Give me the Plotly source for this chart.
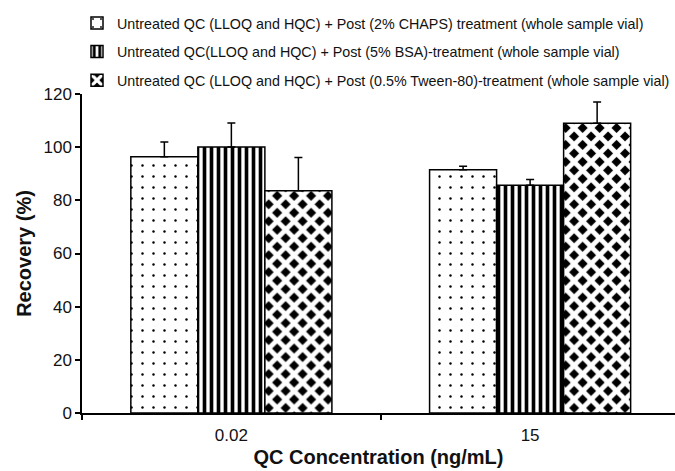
import plotly.graph_objects as go

categories = ["0.02", "15"]
series_names = [
    "Untreated QC (LLOQ and HQC) + Post (2% CHAPS) treatment (whole sample vial)",
    "Untreated QC(LLOQ and HQC) + Post (5% BSA)-treatment (whole sample vial)",
    "Untreated QC (LLOQ and HQC) + Post (0.5% Tween-80)-treatment (whole sample vial)",
]
chaps = [96.4, 91.5]
chaps_err = [5.5, 1.3]
bsa = [100.1, 85.7]
bsa_err = [9.0, 2.1]
tween = [83.6, 109.0]
tween_err = [12.5, 8.0]
y_ticks = [0, 20, 40, 60, 80, 100, 120]

FONT = "Liberation Sans, Arial, sans-serif"
TXT = "#111111"

patterns = [
    dict(shape=".", fgcolor="black", bgcolor="white", size=11, solidity=0.04, fillmode="replace"),
    dict(shape="|", fgcolor="black", bgcolor="white", size=7, solidity=0.52, fillmode="replace"),
    dict(shape="x", fgcolor="white", bgcolor="black", size=12, solidity=0.64, fillmode="replace"),
]

fig = go.Figure()
for i, (name, vals, errs) in enumerate(zip(series_names, [chaps, bsa, tween], [chaps_err, bsa_err, tween_err])):
    fig.add_trace(go.Bar(
        x=categories, y=vals, name=name,
        legendgroup=f"g{i}",
        marker=dict(color="white", line=dict(color="black", width=1.5), pattern=patterns[i]),
        error_y=dict(type="data", array=errs, arrayminus=[0] * len(errs), symmetric=False,
                     color="black", thickness=1.5, width=4),
    ))

fig.update_layout(
    width=675, height=471,
    margin=dict(l=82, r=0, t=94, b=58),
    paper_bgcolor="white", plot_bgcolor="white",
    barmode="group", bargap=0.327, bargroupgap=0,
    font=dict(family=FONT, color=TXT),
    showlegend=True,
    legend=dict(
        x=-0.005, xanchor="left", y=1.272, yanchor="top",
        font=dict(family=FONT, size=14.3, color=TXT),
        traceorder="grouped", tracegroupgap=7,
        bgcolor="rgba(0,0,0,0)",
    ),
    xaxis=dict(
        type="category", range=[-0.5, 1.485],
        showline=True, linecolor="black", linewidth=1.5,
        ticks="outside", tickson="boundaries", ticklen=5, tickcolor="black", tickwidth=1.5,
        tickfont=dict(family=FONT, size=17, color=TXT),
        ticklabelstandoff=6,
        showgrid=False, zeroline=False,
        title=dict(text="<b>QC Concentration (ng/mL)</b>", font=dict(family=FONT, size=20, color=TXT), standoff=6),
    ),
    yaxis=dict(
        range=[0, 120], tickvals=y_ticks,
        showline=True, linecolor="black", linewidth=1.5,
        ticks="outside", ticklen=5, tickcolor="black", tickwidth=1.5,
        tickfont=dict(family=FONT, size=17, color=TXT),
        showgrid=False, zeroline=False,
        title=dict(text="<b>Recovery (%)</b>", font=dict(family=FONT, size=20, color=TXT), standoff=6),
    ),
)

fig.write_html("out.html")
